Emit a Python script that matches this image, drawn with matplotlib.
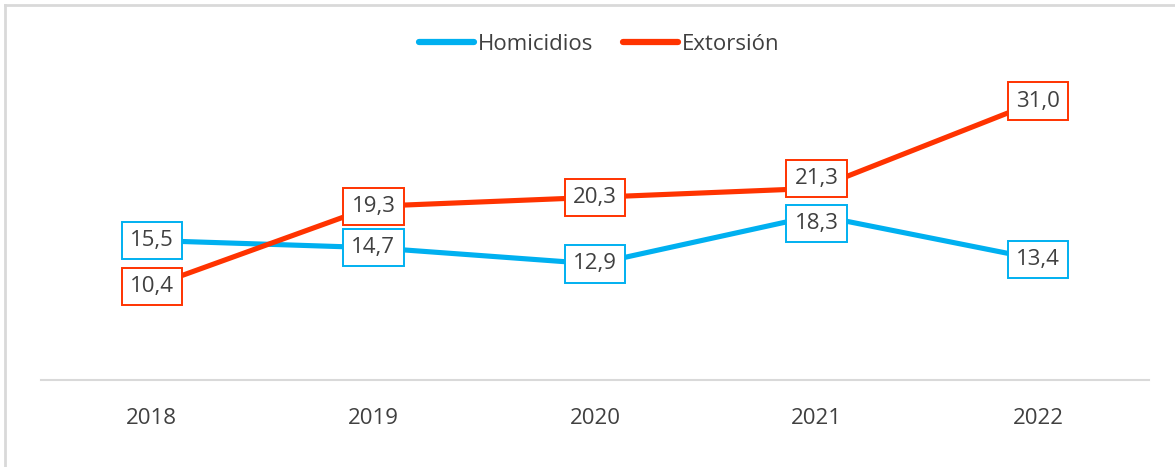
import matplotlib.pyplot as plt
from matplotlib.lines import Line2D

# Data
years = ["2018", "2019", "2020", "2021", "2022"]
homicidios = [15.5, 14.7, 12.9, 18.3, 13.4]
extorsion = [10.4, 19.3, 20.3, 21.3, 31.0]

blue = "#00B0F0"
red = "#FF3300"
text_color = "#404040"

plt.rcParams["font.family"] = ["Open Sans", "DejaVu Sans"]

fig = plt.figure(figsize=(11.75, 4.67), dpi=100)
ax = fig.add_axes([41 / 1175, 1 - 380 / 467, (1149 - 41) / 1175, 315 / 467])

x = list(range(len(years)))
ax.plot(x, homicidios, color=blue, lw=3.7, solid_capstyle="round", zorder=2)
ax.plot(x, extorsion, color=red, lw=3.7, solid_capstyle="round", zorder=2)

# data labels in boxes; 2021 labels nudged apart so they don't overlap
nudge = {("h", 3): -6, ("e", 3): 7}
for key, vals, col in [("h", homicidios, blue), ("e", extorsion, red)]:
    for xi, v in zip(x, vals):
        ax.annotate(f"{v:.1f}".replace(".", ","), (xi, v),
                    xytext=(0, nudge.get((key, xi), 0)), textcoords="offset points",
                    ha="center", va="center", fontsize=16, color=text_color, zorder=5,
                    bbox=dict(boxstyle="square,pad=0.37", fc="white", ec=col, lw=1.4))

ax.set_xlim(-0.5, len(years) - 0.5)
ax.set_ylim(0, 35)
ax.set_xticks(x)
ax.set_xticklabels(years, fontsize=16, color=text_color)
ax.set_yticks([])
ax.tick_params(axis="x", length=0, pad=20)
for s in ["top", "right", "left"]:
    ax.spines[s].set_visible(False)
ax.spines["bottom"].set_color("#d9d9d9")
ax.spines["bottom"].set_linewidth(1.5)

handles = [Line2D([], [], color=blue, lw=4.5, solid_capstyle="round"),
           Line2D([], [], color=red, lw=4.5, solid_capstyle="round")]
fig.legend(handles, ["Homicidios", "Extorsión"], loc="center",
           bbox_to_anchor=(0.51, 1 - 44 / 467), ncol=2, frameon=False,
           fontsize=16, labelcolor=text_color, handlelength=2.5,
           handletextpad=0.18, columnspacing=1.3)

# light border (top and left visible in the crop)
fig.add_artist(Line2D([5 / 1175, 5 / 1175], [0, 1 - 5 / 467], transform=fig.transFigure,
                      color="#d9d9d9", lw=2))
fig.add_artist(Line2D([5 / 1175, 1], [1 - 5 / 467, 1 - 5 / 467], transform=fig.transFigure,
                      color="#d9d9d9", lw=2))

fig.savefig("out.png", dpi=100)
